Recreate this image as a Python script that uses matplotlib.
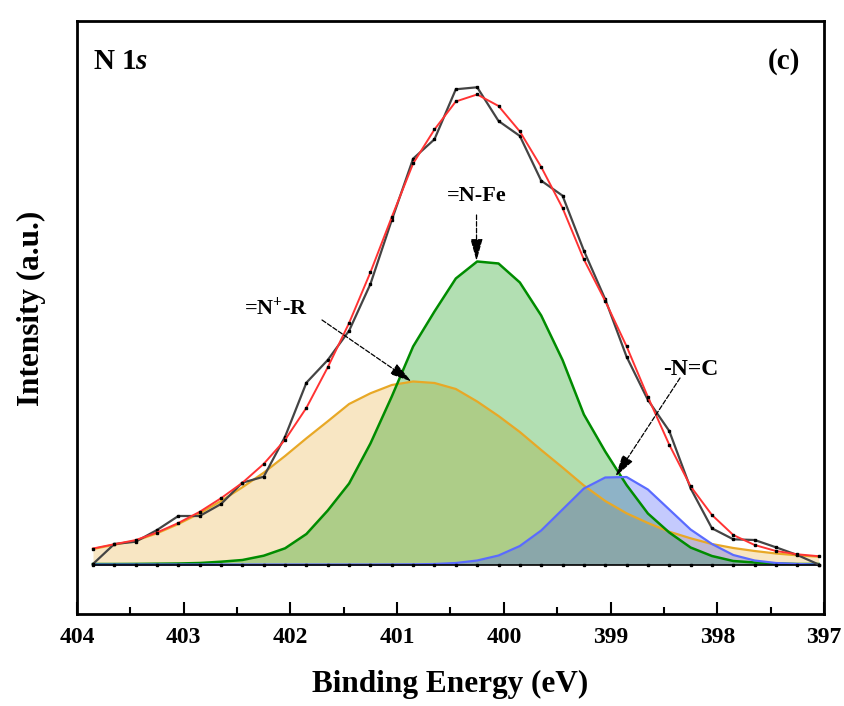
import numpy as np
import matplotlib
matplotlib.use('Agg')
import matplotlib.pyplot as plt

plt.rcParams['font.family'] = ['Liberation Serif', 'DejaVu Serif']
plt.rcParams['font.weight'] = 'bold'
plt.rcParams['mathtext.fontset'] = 'custom'
plt.rcParams['mathtext.rm'] = 'Liberation Serif:bold'
plt.rcParams['mathtext.bf'] = 'Liberation Serif:bold'
plt.rcParams['mathtext.it'] = 'Liberation Serif:bold:italic'

# binding energy (eV), 0.2 eV steps
energy = [403.85, 403.65, 403.45, 403.25, 403.05, 402.85, 402.65, 402.45, 402.25, 402.05,
          401.85, 401.65, 401.45, 401.25, 401.05, 400.85, 400.65, 400.45, 400.25, 400.05,
          399.85, 399.65, 399.45, 399.25, 399.05, 398.85, 398.65, 398.45, 398.25, 398.05,
          397.85, 397.65, 397.45, 397.25, 397.05]

raw = [0.5, 20.5, 22.8, 34.5, 48.5, 48.5, 60.5, 81.8, 87.8, 127.8,
       181.8, 204.5, 233.8, 280.5, 344.5, 405.8, 425.2, 475.2, 477.2, 443.5,
       428.5, 383.8, 368.8, 313.8, 265.2, 207.8, 164.5, 133.5, 76.2, 36.2,
       25.2, 24.5, 17.2, 9.5, 0.0]

envelope = [16.0, 20.3, 24.4, 32.0, 41.5, 52.7, 66.3, 81.7, 100.6, 124.7,
            156.7, 197.2, 241.5, 292.2, 347.5, 401.0, 435.0, 463.0, 470.0, 458.5,
            433.0, 397.5, 356.5, 305.0, 263.5, 218.2, 167.5, 119.8, 78.2, 49.5,
            29.5, 19.5, 13.5, 10.2, 8.3]

peak_nr = [15.5, 19.8, 23.8, 31.2, 40.5, 51.2, 63.5, 77.2, 91.8, 108.5,
           126.2, 143.2, 160.5, 171.2, 179.5, 183.0, 181.5, 175.5, 163.0, 148.5,
           132.5, 114.5, 97.0, 79.0, 63.5, 51.2, 41.5, 32.8, 26.2, 20.5,
           16.5, 13.5, 11.0, 9.2, 7.8]

peak_fe = [0.5, 0.5, 0.6, 0.8, 1.0, 1.5, 2.8, 4.5, 8.8, 16.2,
           30.5, 54.0, 81.0, 121.0, 168.0, 218.0, 253.0, 286.0, 303.0, 301.0,
           282.0, 249.0, 204.5, 150.0, 113.0, 79.5, 51.0, 32.0, 17.0, 8.5,
           3.5, 2.0, 1.0, 0.5, 0.5]

peak_nc = [0.0, 0.0, 0.0, 0.0, 0.0, 0.0, 0.0, 0.0, 0.0, 0.0,
           0.0, 0.0, 0.0, 0.0, 0.1, 0.2, 0.5, 1.5, 4.0, 9.0,
           18.5, 34.0, 55.0, 76.0, 87.0, 87.5, 75.0, 55.0, 35.0, 20.5,
           9.5, 4.0, 1.5, 0.5, 0.0]

background = [0.0] * len(energy)

x = np.array(energy)
base = np.array(background)

fig = plt.figure(figsize=(8.44, 7.06), dpi=100)
ax = fig.add_axes([0.0912, 0.1303, 0.8851, 0.8400])

# filled components
ax.fill_between(x, base, peak_nr, color='#e6a72a', alpha=0.28, lw=0)
ax.fill_between(x, base, peak_fe, color='#009600', alpha=0.3, lw=0)
ax.fill_between(x, base, peak_nc, color='#3c50fa', alpha=0.3, lw=0)

ax.plot(x, peak_nr, color='#e8a826', lw=1.6)
ax.plot(x, peak_fe, color='#008c00', lw=1.8)
ax.plot(x, peak_nc, color='#5a6bff', lw=1.6)
ax.plot(x, base, color='black', lw=1.2, marker='s', ms=1.5)
ax.plot(x, raw, color='#444444', lw=1.6, marker='s', ms=2, mfc='black', mec='black')
ax.plot(x, envelope, color='#ff3333', lw=1.4, marker='s', ms=1.5, mfc='black', mec='black')

ax.set_xlim(404, 397)
ax.set_ylim(-49.5, 543.5)
ax.set_xticks(np.arange(404, 396.9, -1))
ax.set_xticks(np.arange(403.5, 397, -1), minor=True)
ax.set_yticks([])
ax.tick_params(axis='x', which='major', direction='in', length=9, width=1.5, labelsize=17, pad=9)
ax.tick_params(axis='x', which='minor', direction='in', length=5, width=1.5)
for lab in ax.get_xticklabels():
    lab.set_fontweight('bold')
for s in ax.spines.values():
    s.set_linewidth(2)

ax.set_xlabel('Binding Energy (eV)', fontsize=22.5, fontweight='bold', labelpad=16)
ax.set_ylabel('Intensity (a.u.)', fontsize=22.5, fontweight='bold')
ax.yaxis.set_label_coords(-0.042, 0.515)

ax.text(0.022, 0.955, r'N 1$\mathit{s}$', transform=ax.transAxes, fontsize=21,
        fontweight='bold', ha='left', va='top')
ax.text(0.968, 0.955, '(c)', transform=ax.transAxes, fontsize=21,
        fontweight='bold', ha='right', va='top')

arrow = dict(arrowstyle='-|>,head_length=0.8,head_width=0.22', linestyle='--', color='black', lw=0.9,
             mutation_scale=17, shrinkA=0, shrinkB=0)
ax.annotate('', xy=(400.256, 303.5), xytext=(400.256, 349.5), arrowprops=arrow)
ax.text(400.256, 368.5, '=N-Fe', fontsize=16, fontweight='bold', ha='center', va='center')
ax.annotate('', xy=(400.865, 183), xytext=(401.704, 244.5), arrowprops=arrow)
ax.text(402.135, 256, r'=N$^{\mathbf{+}}$-R', fontsize=16, fontweight='bold', ha='center', va='center')
ax.annotate('', xy=(398.953, 88), xytext=(398.349, 186.5), arrowprops=arrow)
ax.text(398.245, 194.5, '-N=C', fontsize=17, fontweight='bold', ha='center', va='center')

fig.savefig('out.png', dpi=100)
